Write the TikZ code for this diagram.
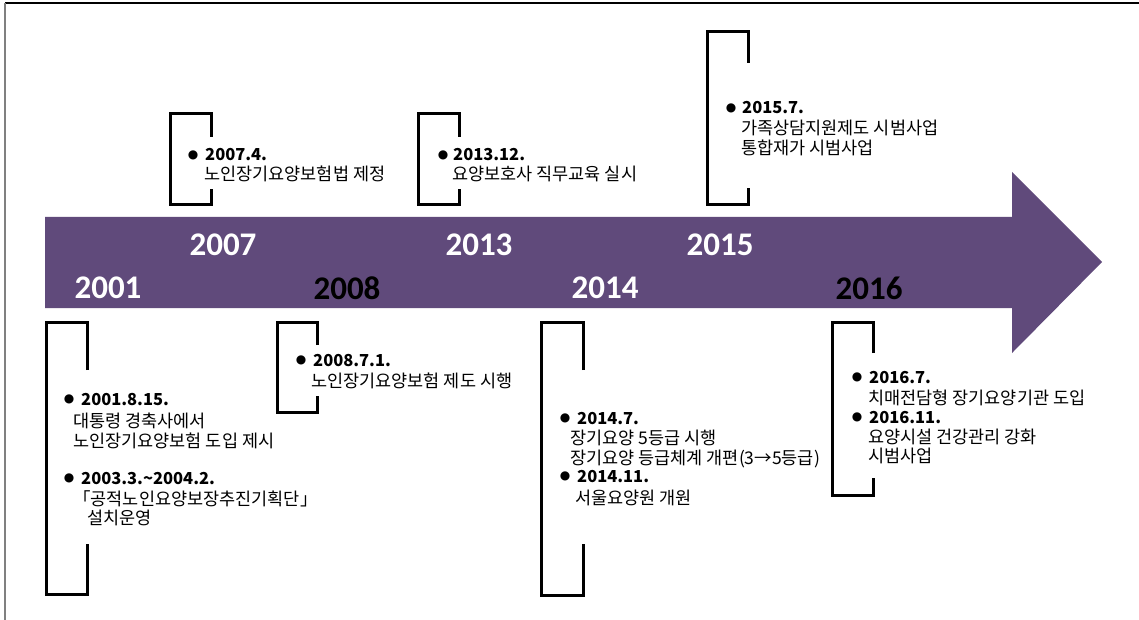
\documentclass[tikz,border=0pt]{standalone}
\usepackage{fontspec}
\newfontfamily\kr{Noto Sans CJK KR}
\newfontfamily\yr{Carlito}
\newfontfamily\sym{DejaVu Sans}
\definecolor{arrowc}{HTML}{604A7B}
\definecolor{framec}{HTML}{808080}
\tikzset{
  ln/.style={anchor=base west, inner sep=0pt, font=\kr\fontsize{17.5}{20}\selectfont},
  dt/.style={anchor=base west, inner sep=0pt, font=\kr\bfseries\fontsize{16.5}{19}\selectfont},
  bul/.style={anchor=center, inner sep=0pt, font=\sym\fontsize{12}{14}\selectfont},
  yrw/.style={anchor=center, inner sep=0pt, text=white, font=\yr\bfseries\fontsize{33}{36}\selectfont},
  yrb/.style={yrw, text=black},
  brk/.style={line width=3pt, line join=miter, black},
}
\begin{document}
\begin{tikzpicture}[x=1pt,y=-1pt]
\useasboundingbox (0,0) rectangle (1139,620);
% frame
\draw[line width=1.5pt, black] (5,3) -- (1139,3);
\draw[line width=1.5pt, framec] (5,3) -- (5,620);
% arrow
\fill[arrowc] (45,217) -- (1012,217) -- (1012,172) -- (1102,262) -- (1012,353) -- (1012,308) -- (45,308) -- cycle;
% years
\node[yrw] (y2007) at (223,245) {2007};
\node[yrw] (y2013) at (479,245) {2013};
\node[yrw] (y2015) at (720,245) {2015};
\node[yrw] (y2001) at (108,288) {2001};
\node[yrb] (y2008) at (347,288) {2008};
\node[yrw] (y2014) at (605,288) {2014};
\node[yrb] (y2016) at (869,288) {2016};
% brackets
\draw[brk] (211,137) -- (211,114) -- (170,114) -- (170,205) -- (211,205) -- (211,189);
\draw[brk] (459,137) -- (459,114) -- (418,114) -- (418,205) -- (459,205) -- (459,189);
\draw[brk] (748,63) -- (748,32) -- (707,32) -- (707,205) -- (748,205) -- (748,188);
\draw[brk] (87,370) -- (87,322) -- (46,322) -- (46,594) -- (87,594) -- (87,544);
\draw[brk] (317,345) -- (317,322) -- (277,322) -- (277,412) -- (317,412) -- (317,396);
\draw[brk] (583,370) -- (583,322) -- (541,322) -- (541,595) -- (583,595) -- (583,544);
\draw[brk] (873,353) -- (873,322) -- (832,322) -- (832,495) -- (873,495) -- (873,478);
% 2007
\node[bul] (b2007) at (193,155) {●};
\node[dt] (d2007) at (205,161) {2007.4.};
\node[ln] (t2007) at (204,181) {노인장기요양보험법 제정};
% 2013
\node[bul] (b2013) at (443,155) {●};
\node[dt] (d2013) at (453,161) {2013.12.};
\node[ln] (t2013) at (452,181) {요양보호사 직무교육 실시};
% 2015
\node[bul] (b2015) at (731,108) {●};
\node[dt] (d2015) at (742,114) {2015.7.};
\node[ln] (t2015a) at (741,135) {가족상담지원제도 시범사업};
\node[ln] (t2015b) at (741,155) {통합재가 시범사업};
% 2001
\node[bul] (b2001a) at (69,399) {●};
\node[dt] (d2001a) at (81,405) {2001.8.15.};
\node[ln] (t2001a) at (73,427) {대통령 경축사에서};
\node[ln] (t2001b) at (73,447) {노인장기요양보험 도입 제시};
\node[bul] (b2001b) at (69,478) {●};
\node[dt] (d2001b) at (81,484) {2003.3.\textasciitilde2004.2.};
\node[ln] (t2001c) at (73,505) {「공적노인요양보장추진기획단」};
\node[ln] (t2001d) at (87,524) {설치운영};
% 2008
\node[bul] (b2008) at (301,360) {●};
\node[dt] (d2008) at (313,366) {2008.7.1.};
\node[ln] (t2008) at (311,387) {노인장기요양보험 제도 시행};
% 2014
\node[bul] (b2014a) at (565,418) {●};
\node[dt] (d2014a) at (577,424) {2014.7.};
\node[ln] (t2014a) at (570,444) {장기요양 5등급 시행};
\node[ln] (t2014b) at (570,464) {장기요양 등급체계 개편(3→5등급)};
\node[bul] (b2014b) at (565,476) {●};
\node[dt] (d2014b) at (577,482) {2014.11.};
\node[ln] (t2014c) at (575,504) {서울요양원 개원};
% 2016
\node[bul] (b2016a) at (857,377) {●};
\node[dt] (d2016a) at (869,383) {2016.7.};
\node[ln] (t2016a) at (868,404) {치매전담형 장기요양기관 도입};
\node[bul] (b2016b) at (857,417) {●};
\node[dt] (d2016b) at (869,423) {2016.11.};
\node[ln] (t2016b) at (868,443) {요양시설 건강관리 강화};
\node[ln] (t2016c) at (868,462) {시범사업};
\end{tikzpicture}
\end{document}
